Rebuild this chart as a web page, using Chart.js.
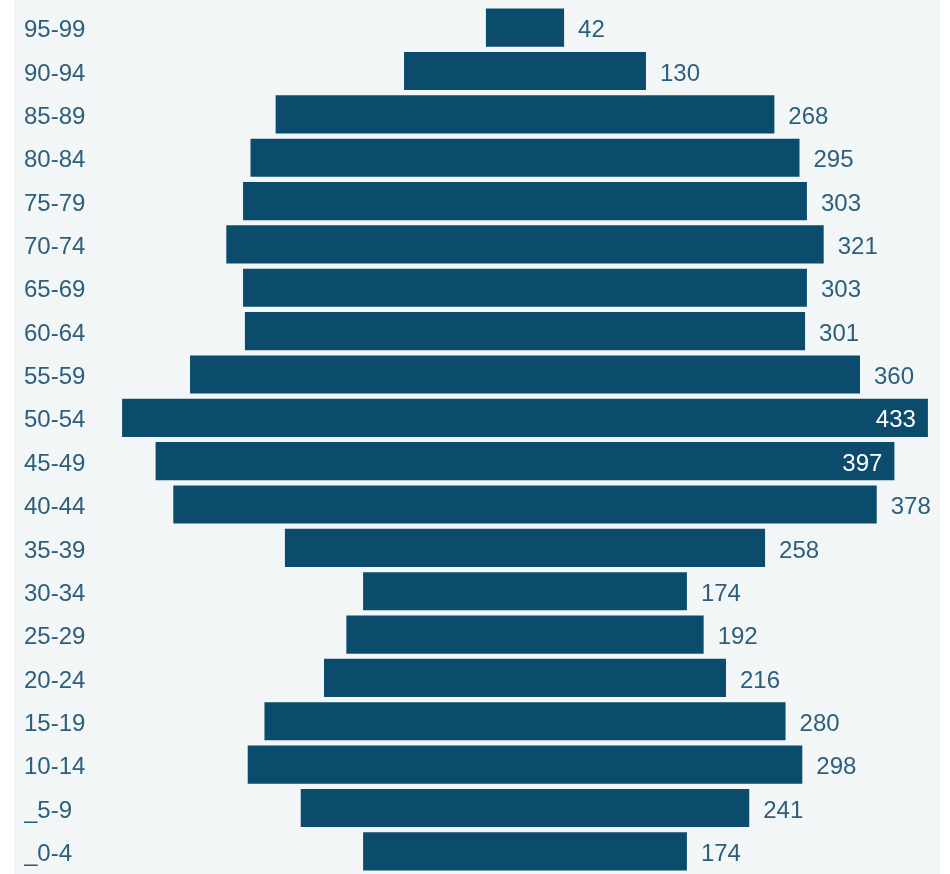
<!DOCTYPE html>
<html>
<head>
<meta charset="utf-8">
<script src="https://cdn.jsdelivr.net/npm/chart.js@4"></script>
<style>
    html, body { margin: 0; padding: 0; background: #ffffff; }
    #wrap {
        position: relative;
        width: 950px;
        height: 874px;
        background: linear-gradient(to right, #ffffff 0px, #ffffff 14px, #f3f6f7 14px, #f3f6f7 940px, #ffffff 940px);
    }
</style>
</head>
<body>
<div id="wrap"><canvas id="graph" width="950" height="874"></canvas></div>
<script>
const ageGroups = ['95-99', '90-94', '85-89', '80-84', '75-79', '70-74', '65-69', '60-64', '55-59', '50-54',
                   '45-49', '40-44', '35-39', '30-34', '25-29', '20-24', '15-19', '10-14', '_5-9', '_0-4'];
const population = [42, 130, 268, 295, 303, 321, 303, 301, 360, 433,
                    397, 378, 258, 174, 192, 216, 280, 298, 241, 174];

const barColor = '#0b4c6c';
const textColor = '#2d5f7b';
const fontFamily = '"Liberation Sans", Arial, sans-serif';

// each bar is centred on zero
const spans = population.map(v => [-v / 2, v / 2]);

const valueLabels = {
    id: 'valueLabels',
    afterDatasetsDraw(chart) {
        const c = chart.ctx;
        const meta = chart.getDatasetMeta(0);
        const right = chart.chartArea.right;
        c.save();
        c.font = '24px ' + fontFamily;
        c.textBaseline = 'middle';
        meta.data.forEach((bar, i) => {
            const txt = String(population[i]);
            const w = c.measureText(txt).width;
            const end = bar.x;
            if (end + 14 + w > right) {
                // no room outside: put it inside the bar
                c.fillStyle = '#ffffff';
                c.textAlign = 'right';
                c.fillText(txt, end - 12, bar.y + 3);
            } else {
                c.fillStyle = textColor;
                c.textAlign = 'left';
                c.fillText(txt, end + 14, bar.y + 3);
            }
        });
        c.restore();
    }
};

const ctx = document.getElementById('graph');

const chart = new Chart(ctx, {
    type: 'bar',
    data: {
        labels: ageGroups,
        datasets: [{
            data: spans,
            backgroundColor: barColor,
            borderWidth: 0,
            borderSkipped: false,
            barPercentage: 0.88,
            categoryPercentage: 1.0
        }]
    },
    options: {
        indexAxis: 'y',
        responsive: false,
        animation: false,
        layout: {
            padding: { left: 24, right: 10, top: 6, bottom: 1 }
        },
        plugins: {
            legend: { display: false },
            tooltip: { enabled: false }
        },
        scales: {
            x: {
                display: false,
                min: -223,
                max: 223
            },
            y: {
                grid: { display: false },
                border: { display: false },
                ticks: {
                    color: textColor,
                    font: { family: fontFamily, size: 24 },
                    crossAlign: 'far',
                    padding: 0,
                    labelOffset: 3
                },
                afterFit: (scale) => {
                    scale.width = 86;
                    scale.paddingTop = 0;
                    scale.paddingBottom = 0;
                }
            }
        }
    },
    plugins: [valueLabels]
});
</script>
</body>
</html>
